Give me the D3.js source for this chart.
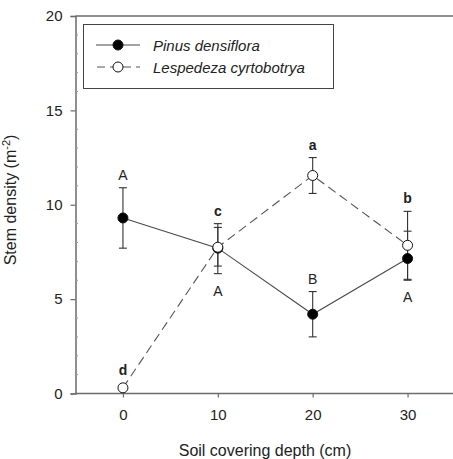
<!DOCTYPE html>
<html>
<head>
<meta charset="utf-8">
<script src="https://cdn.jsdelivr.net/npm/d3@7.9.0/dist/d3.min.js"></script>
<style>
  body { margin: 0; background: #fff; }
  svg { display: block; font-family: "Liberation Sans", Arial, sans-serif; }
</style>
</head>
<body>
<svg width="453" height="459"></svg>
<script>
// data
const depth = [0, 10, 20, 30];
const pinusMean = [9.3, 7.7, 4.2, 7.15];
const pinusHi = [10.9, 8.8, 5.4, 8.6];
const pinusLo = [7.7, 6.35, 3.0, 6.0];
const pinusLetters = ['A', 'A', 'B', 'A'];
const pinusLetterPos = ['above', 'below', 'above', 'below'];

const lespMean = [0.3, 7.75, 11.55, 7.85];
const lespHi = [0.3, 9.0, 12.5, 9.65];
const lespLo = [0.3, 6.75, 10.6, 6.05];
const lespLetters = ['d', 'c', 'a', 'b'];
const lespLetterPos = ['above', 'above', 'above', 'above'];

const xTicks = [0, 10, 20, 30];
const yTicks = [0, 5, 10, 15, 20];

const svg = d3.select('svg');
const x = d3.scaleLinear().domain([-5, 35]).range([75.5, 455]);
const y = d3.scaleLinear().domain([0, 20]).range([393.5, 16]);
const axisColor = '#6b6b6b';
const inkColor = '#222';

// frame: top line
svg.append('line')
  .attr('x1', x(-5)).attr('x2', 453)
  .attr('y1', y(20)).attr('y2', y(20))
  .attr('stroke', axisColor).attr('stroke-width', 1.5);

// y axis
const yAxis = svg.append('g').attr('transform', `translate(${x(-5)},0)`)
  .call(d3.axisLeft(y).tickValues(yTicks).tickSize(5).tickPadding(8).tickFormat(d3.format('d')));
yAxis.select('.domain').attr('stroke', axisColor).attr('stroke-width', 1.5);
yAxis.selectAll('.tick line').attr('stroke', axisColor).attr('stroke-width', 1.2);
yAxis.selectAll('.tick text').attr('font-size', 15).attr('fill', inkColor)
  .attr('font-family', '"Liberation Sans", Arial, sans-serif');

// minor y ticks (inside)
svg.append('g').selectAll('line')
  .data(d3.range(1, 20).filter(d => d % 5 !== 0))
  .join('line')
  .attr('x1', x(-5)).attr('x2', x(-5) + 2.5)
  .attr('y1', d => y(d)).attr('y2', d => y(d))
  .attr('stroke', '#999').attr('stroke-width', 1);

// x axis
const xAxis = svg.append('g').attr('transform', `translate(0,${y(0)})`)
  .call(d3.axisBottom(x).tickValues(xTicks).tickSize(4).tickPadding(12));
xAxis.select('.domain').attr('stroke', axisColor).attr('stroke-width', 1.5)
  .attr('d', `M${x(-5)},0H453`);
xAxis.selectAll('.tick line').attr('stroke', axisColor).attr('stroke-width', 1.2);
xAxis.selectAll('.tick text').attr('font-size', 15).attr('fill', inkColor)
  .attr('font-family', '"Liberation Sans", Arial, sans-serif');

// axis titles
svg.append('text')
  .attr('x', 265).attr('y', 456)
  .attr('text-anchor', 'middle')
  .attr('font-size', 16).attr('fill', inkColor)
  .text('Soil covering depth (cm)');

const yTitle = svg.append('text')
  .attr('transform', 'translate(16,200) rotate(-90)')
  .attr('text-anchor', 'middle')
  .attr('font-size', 16).attr('fill', inkColor);
yTitle.append('tspan').text('Stem density (m');
yTitle.append('tspan').attr('dy', -6).attr('font-size', 11).text('-2');
yTitle.append('tspan').attr('dy', 6).text(')');

// series
const series = [
  { mean: pinusMean, hi: pinusHi, lo: pinusLo, letters: pinusLetters, pos: pinusLetterPos,
    fill: '#000', dash: null, lineColor: '#4a4a4a', weight: 'normal' },
  { mean: lespMean, hi: lespHi, lo: lespLo, letters: lespLetters, pos: lespLetterPos,
    fill: '#fff', dash: '9,5', lineColor: '#555', weight: 'bold' }
];
const r = 5;
const line = d3.line().x((d, i) => x(depth[i])).y(d => y(d));

series.forEach(s => {
  svg.append('path')
    .attr('d', line(s.mean))
    .attr('fill', 'none')
    .attr('stroke', s.lineColor)
    .attr('stroke-width', 1.1)
    .attr('stroke-dasharray', s.dash);
});

// error bars
series.forEach(s => {
  const g = svg.append('g').attr('stroke', '#333').attr('stroke-width', 1.1);
  depth.forEach((d, i) => {
    if (s.hi[i] === s.lo[i]) return;
    const cx = x(d);
    g.append('line').attr('x1', cx).attr('x2', cx).attr('y1', y(s.hi[i])).attr('y2', y(s.lo[i]));
    g.append('line').attr('x1', cx - 4).attr('x2', cx + 4).attr('y1', y(s.hi[i])).attr('y2', y(s.hi[i]));
    g.append('line').attr('x1', cx - 4).attr('x2', cx + 4).attr('y1', y(s.lo[i])).attr('y2', y(s.lo[i]));
  });
});

// markers
series.forEach(s => {
  svg.append('g').selectAll('circle')
    .data(s.mean)
    .join('circle')
    .attr('cx', (d, i) => x(depth[i]))
    .attr('cy', d => y(d))
    .attr('r', r)
    .attr('fill', s.fill)
    .attr('stroke', '#111')
    .attr('stroke-width', 1);
});

// significance letters
series.forEach(s => {
  depth.forEach((d, i) => {
    let ty;
    if (s.pos[i] === 'above') {
      const top = s.hi[i] === s.lo[i] ? y(s.mean[i]) - r : y(s.hi[i]);
      ty = top - 8;
    } else {
      ty = y(s.lo[i]) + 22;
    }
    svg.append('text')
      .attr('x', x(d)).attr('y', ty)
      .attr('text-anchor', 'middle')
      .attr('font-size', 14)
      .attr('font-weight', s.weight)
      .attr('fill', inkColor)
      .text(s.letters[i]);
  });
});

// legend
const legend = svg.append('g');
legend.append('rect')
  .attr('x', 83.5).attr('y', 24.5).attr('width', 250).attr('height', 64)
  .attr('fill', '#fff').attr('stroke', '#444').attr('stroke-width', 1);
const legendNames = ['Pinus densiflora', 'Lespedeza cyrtobotrya'];
const legendY = [45, 67];
series.forEach((s, i) => {
  legend.append('line')
    .attr('x1', 96).attr('x2', 140)
    .attr('y1', legendY[i]).attr('y2', legendY[i])
    .attr('stroke', s.lineColor).attr('stroke-width', 1.1)
    .attr('stroke-dasharray', s.dash ? '8,5' : null)
    .attr('stroke-dashoffset', s.dash ? -1 : null);
  legend.append('circle')
    .attr('cx', 118).attr('cy', legendY[i]).attr('r', r)
    .attr('fill', s.fill).attr('stroke', '#111').attr('stroke-width', 1);
  legend.append('text')
    .attr('x', 153).attr('y', legendY[i] + 5.5)
    .attr('font-size', 15).attr('font-style', 'italic')
    .attr('fill', inkColor)
    .text(legendNames[i]);
});
</script>
</body>
</html>
